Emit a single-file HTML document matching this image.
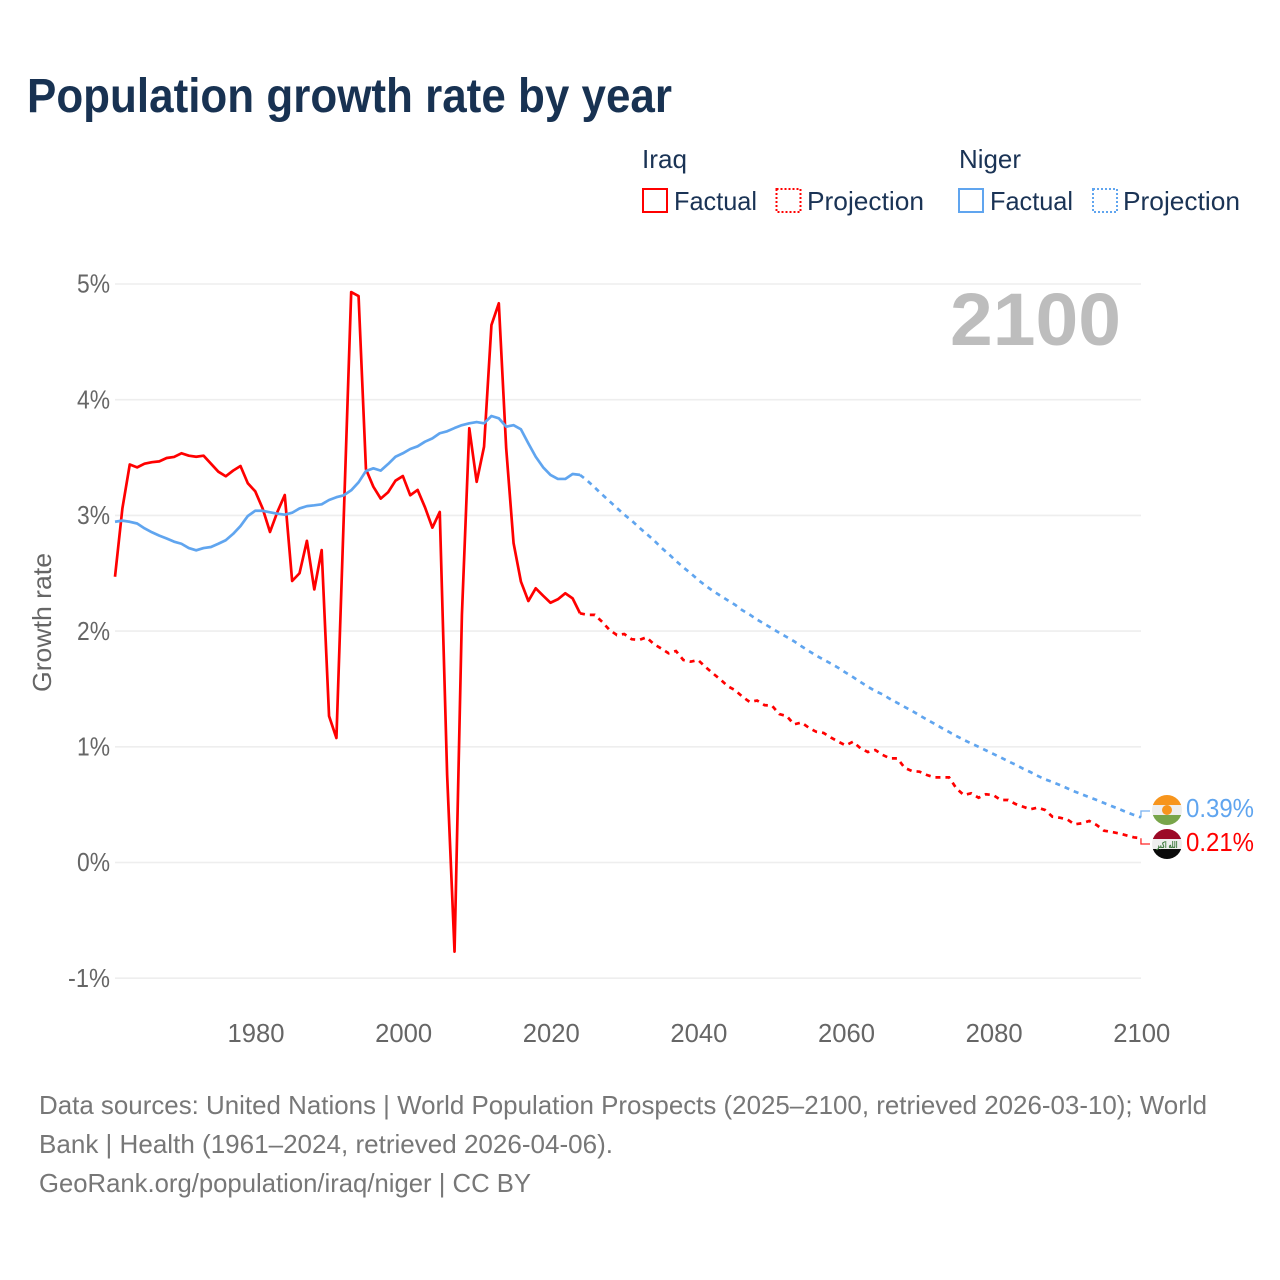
<!DOCTYPE html>
<html lang="en">
<head>
<meta charset="utf-8">
<title>Population growth rate by year</title>
<style>
html,body{margin:0;padding:0;background:#fff;}
svg{display:block;}
text{font-family:"Liberation Sans",sans-serif;}
</style>
</head>
<body>
<svg id="chart" xmlns="http://www.w3.org/2000/svg" width="1280" height="1280" viewBox="0 0 1280 1280">
  <rect x="0" y="0" width="1280" height="1280" fill="#ffffff"/>
  <text x="27" y="112" font-size="48" font-weight="700" fill="#183252" textLength="645" lengthAdjust="spacingAndGlyphs">Population growth rate by year</text>

  <g font-size="26" fill="#1a3355">
    <text x="642" y="168" textLength="45" lengthAdjust="spacingAndGlyphs">Iraq</text>
    <text x="959" y="168" textLength="62" lengthAdjust="spacingAndGlyphs">Niger</text>
    <g>
      <rect x="643" y="189" width="24" height="23" fill="none" stroke="#ff0000" stroke-width="2"/>
      <text x="674" y="210" textLength="83" lengthAdjust="spacingAndGlyphs">Factual</text>
    </g>
    <g>
      <rect x="776.5" y="189" width="24" height="23" fill="none" stroke="#ff0000" stroke-width="2" stroke-dasharray="2 2"/>
      <text x="807" y="210" textLength="117" lengthAdjust="spacingAndGlyphs">Projection</text>
    </g>
    <g>
      <rect x="959" y="189" width="24" height="23" fill="none" stroke="#60a5ef" stroke-width="2"/>
      <text x="990" y="210" textLength="83" lengthAdjust="spacingAndGlyphs">Factual</text>
    </g>
    <g>
      <rect x="1093" y="189" width="24" height="23" fill="none" stroke="#60a5ef" stroke-width="2" stroke-dasharray="2 2"/>
      <text x="1123" y="210" textLength="117" lengthAdjust="spacingAndGlyphs">Projection</text>
    </g>
  </g>

  <g id="grid"></g>
  <g id="y-ticks"></g>
  <g id="x-ticks"></g>

  <text transform="translate(51,622.5) rotate(-90)" text-anchor="middle" font-size="26" fill="#666666" textLength="139" lengthAdjust="spacingAndGlyphs">Growth rate</text>

  <text x="950" y="345" font-size="74" font-weight="700" fill="#bdbdbd" textLength="171" lengthAdjust="spacingAndGlyphs">2100</text>

  <g id="series"></g>

  <defs>
    <clipPath id="niger-clip"><circle cx="1167" cy="810" r="15"/></clipPath>
    <clipPath id="iraq-clip"><circle cx="1167" cy="844" r="15"/></clipPath>
  </defs>
  <g clip-path="url(#niger-clip)">
    <rect x="1152" y="795" width="30" height="10" fill="#f7951d"/>
    <rect x="1152" y="805" width="30" height="10" fill="#eeeeee"/>
    <rect x="1152" y="815" width="30" height="10" fill="#78a54a"/>
    <circle cx="1167" cy="810" r="5" fill="#f7951d"/>
  </g>
  <g clip-path="url(#iraq-clip)">
    <rect x="1152" y="829" width="30" height="10" fill="#9c0a26"/>
    <rect x="1152" y="839" width="30" height="10" fill="#eeeeee"/>
    <rect x="1152" y="849" width="30" height="10" fill="#0a0a0a"/>
    <text x="1167" y="848" text-anchor="middle" font-size="9" font-weight="700" fill="#3e7a3e" style="font-family:'DejaVu Sans',sans-serif" textLength="21" lengthAdjust="spacingAndGlyphs">الله اكبر</text>
  </g>
  <g id="end-labels"></g>

  <g font-size="26" fill="#777777">
    <text x="39" y="1114" textLength="1168" lengthAdjust="spacingAndGlyphs">Data sources: United Nations | World Population Prospects (2025–2100, retrieved 2026-03-10); World</text>
    <text x="39" y="1153" textLength="574" lengthAdjust="spacingAndGlyphs">Bank | Health (1961–2024, retrieved 2026-04-06).</text>
    <text x="39" y="1192" textLength="492" lengthAdjust="spacingAndGlyphs">GeoRank.org/population/iraq/niger | CC BY</text>
  </g>
</svg>
<script>
var firstYear = 1961;
var yTicks = [5, 4, 3, 2, 1, 0, -1];
var xTicks = [1980, 2000, 2020, 2040, 2060, 2080, 2100];

// Iraq factual, 1961-2024
var iraqFactual = [2.47,3.06,3.44,3.415,3.447,3.46,3.467,3.496,3.505,3.537,
  3.516,3.507,3.516,3.447,3.378,3.338,3.387,3.427,3.277,3.208,
  3.06,2.857,3.03,3.176,2.433,2.5,2.78,2.36,2.70,1.266,
  1.076,3.0,4.93,4.896,3.40,3.248,3.145,3.2,3.30,3.34,
  3.174,3.22,3.07,2.894,3.03,0.756,-0.77,2.14,3.753,3.29,
  3.594,4.645,4.833,3.58,2.76,2.427,2.26,2.37,2.306,2.245,
  2.275,2.327,2.283,2.154];

// Iraq projection, 2025-2100
var iraqProjection = [2.14,2.14,2.08,2.01,1.966,1.975,1.93,1.923,1.946,1.888,
  1.85,1.808,1.828,1.75,1.736,1.75,1.69,1.635,1.583,1.525,
  1.49,1.433,1.387,1.4,1.36,1.356,1.283,1.266,1.194,1.21,
  1.165,1.13,1.12,1.08,1.044,1.012,1.044,0.987,0.955,0.972,
  0.93,0.90,0.90,0.817,0.79,0.785,0.756,0.736,0.736,0.736,
  0.64,0.583,0.598,0.56,0.59,0.583,0.54,0.54,0.506,0.483,
  0.46,0.474,0.454,0.396,0.387,0.373,0.33,0.339,0.359,0.324,
  0.275,0.264,0.252,0.235,0.218,0.21];

// Niger factual, 1961-2024
var nigerFactual = [2.945,2.955,2.945,2.93,2.888,2.854,2.825,2.80,2.773,2.755,
  2.718,2.698,2.718,2.727,2.755,2.785,2.84,2.908,2.995,3.04,
  3.04,3.027,3.015,3.006,3.023,3.06,3.08,3.087,3.096,3.133,
  3.157,3.174,3.217,3.286,3.384,3.407,3.387,3.444,3.507,3.537,
  3.574,3.597,3.637,3.666,3.71,3.727,3.755,3.78,3.796,3.807,
  3.796,3.859,3.839,3.767,3.78,3.744,3.623,3.507,3.416,3.35,
  3.315,3.315,3.358,3.35];

// Niger projection, 2025-2100
var nigerProjection = [3.30,3.241,3.18,3.122,3.064,3.006,2.955,2.896,2.841,2.786,
  2.722,2.667,2.607,2.551,2.50,2.443,2.393,2.348,2.307,2.267,
  2.228,2.18,2.142,2.099,2.062,2.024,1.985,1.949,1.912,1.869,
  1.828,1.789,1.753,1.719,1.682,1.641,1.602,1.56,1.519,1.482,
  1.453,1.414,1.379,1.344,1.31,1.272,1.235,1.2,1.163,1.128,
  1.093,1.06,1.029,1.0,0.969,0.938,0.908,0.875,0.846,0.812,
  0.782,0.749,0.719,0.696,0.67,0.642,0.614,0.589,0.564,0.54,
  0.514,0.488,0.463,0.436,0.412,0.39];

var NS = 'http://www.w3.org/2000/svg';
function xScale(year) { return 115 + (year - firstYear) * 7.381; }
function yScale(v) { return 862.5 - v * 115.7; }
function make(tag, attrs, parent) {
  var el = document.createElementNS(NS, tag);
  for (var k in attrs) { el.setAttribute(k, attrs[k]); }
  parent.appendChild(el);
  return el;
}
var gridG = document.getElementById('grid');
var yG = document.getElementById('y-ticks');
var xG = document.getElementById('x-ticks');
var seriesG = document.getElementById('series');
var endG = document.getElementById('end-labels');

yTicks.forEach(function (t) {
  var line = make('line', {x1: 115, x2: 1141, y1: yScale(t), y2: yScale(t), stroke: '#eeeeee', 'stroke-width': 1.6}, gridG);
  
  
  var label = make('text', {x: 110, y: yScale(t) + 8.7, 'text-anchor': 'end', 'font-size': 26, fill: '#666666', textLength: t < 0 ? 42 : 33, lengthAdjust: 'spacingAndGlyphs'}, yG);
  
  
  label.textContent = t + '%';
});

xTicks.forEach(function (t) {
  var label = make('text', {x: xScale(t) + 0.8, y: 1042, 'text-anchor': 'middle', 'font-size': 26, fill: '#666666', textLength: 57, lengthAdjust: 'spacingAndGlyphs'}, xG);
  
  
  label.textContent = t;
});

function pathFrom(values, startYear) {
  return values.map(function (v, i) {
    return (i ? 'L' : 'M') + xScale(startYear + i).toFixed(2) + ' ' + yScale(v).toFixed(2);
  }).join(' ');
}

function drawSeries(factual, projection, color, key) {
  var solid = make('path', {d: pathFrom(factual, firstYear), fill: 'none', stroke: color, 'stroke-width': 2.7, 'stroke-linejoin': 'round'}, seriesG);
  
  
  var lastYear = firstYear + factual.length - 1;
  var joined = [factual[factual.length - 1]].concat(projection);
  var dashed = make('path', {d: pathFrom(joined, lastYear), fill: 'none', stroke: color, 'stroke-width': 2.7, 'stroke-dasharray': '5 5'}, seriesG);
  
  
}
drawSeries(iraqFactual, iraqProjection, '#ff0000', 'iraq');
drawSeries(nigerFactual, nigerProjection, '#60a5ef', 'niger');

function drawEnd(projection, color, key, flagY, labelY) {
  var v = projection[projection.length - 1];
  var yearEnd = firstYear + iraqFactual.length + projection.length - 1;
  var px = xScale(yearEnd);
  var py = yScale(v);
  var conn = make('path', {d: 'M' + px + ' ' + py + ' L' + px + ' ' + flagY + ' L1150 ' + flagY, fill: 'none', stroke: color, 'stroke-width': 1.3, opacity: 0.85}, endG);
  
  
  var label = make('text', {x: 1186, y: labelY, 'font-size': 26, fill: color, textLength: 68, lengthAdjust: 'spacingAndGlyphs'}, endG);
  
  
  label.textContent = v.toFixed(2) + '%';
}
drawEnd(nigerProjection, '#60a5ef', 'niger', 811, 817);
drawEnd(iraqProjection, '#ff0000', 'iraq', 844, 851);
</script>
</body>
</html>
